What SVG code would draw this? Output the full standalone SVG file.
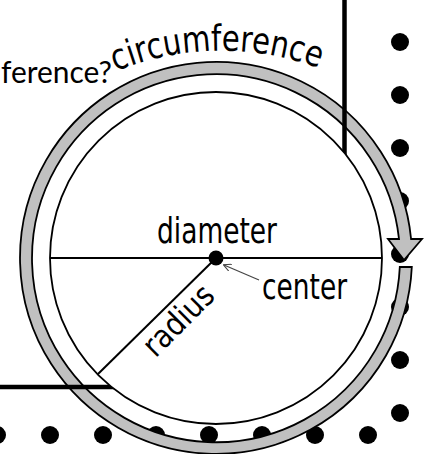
<svg xmlns="http://www.w3.org/2000/svg" width="434" height="454" viewBox="0 0 434 454">
<style>
.dot{fill:#000}
.box{stroke:#000;stroke-width:4.5;fill:none}
.hand{font-family:"Liberation Sans Narrow","DejaVu Sans Condensed","Liberation Sans",sans-serif;fill:#000}
.ln{stroke:#000;stroke-width:2;fill:none}
</style>
<defs>
<marker id="openArrow" viewBox="0 0 10 10" refX="9" refY="5" markerWidth="8" markerHeight="8" markerUnits="userSpaceOnUse" orient="auto">
<path d="M0,0 L10,5 L0,10" fill="none" stroke="#444" stroke-width="1.3"/>
</marker>
<path id="circArc" d="M112,73 A280,280 0 0 1 338,76"/>
</defs>
<rect width="434" height="454" fill="#fff"/>
<g id="dots">
<circle class="dot" cx="400" cy="42" r="9"/>
<circle class="dot" cx="400" cy="95" r="9"/>
<circle class="dot" cx="400" cy="148" r="9"/>
<circle class="dot" cx="400" cy="201" r="9"/>
<circle class="dot" cx="400" cy="254" r="9"/>
<circle class="dot" cx="400" cy="307" r="9"/>
<circle class="dot" cx="400" cy="360" r="9"/>
<circle class="dot" cx="400" cy="413" r="9"/>
<circle class="dot" cx="-3" cy="435" r="9"/>
<circle class="dot" cx="50" cy="435" r="9"/>
<circle class="dot" cx="103" cy="435" r="9"/>
<circle class="dot" cx="156" cy="435" r="9"/>
<circle class="dot" cx="209" cy="435" r="9"/>
<circle class="dot" cx="262" cy="435" r="9"/>
<circle class="dot" cx="315" cy="435" r="9"/>
<circle class="dot" cx="368" cy="435" r="9"/>
</g>
<g id="circumference-arrow">
<path d="M411.8,267 A196,196 0 1 1 411.1,239 L422,239 L404,260 L388,239 L399,239 A184,184 0 1 0 399.8,267 Z" fill="#c0c0c0" stroke="#000" stroke-width="1.8" stroke-linejoin="miter"/>
</g>
<g id="box">
<line class="box" x1="344.5" y1="0" x2="344.5" y2="170"/>
<line class="box" x1="0" y1="387" x2="125" y2="387"/>
</g>
<g id="circle">
<circle cx="216" cy="258" r="166" fill="#fff" stroke="#000" stroke-width="1.8"/>
</g>
<g id="connectors">
<line class="ln" x1="50" y1="258" x2="382" y2="258"/>
<line class="ln" x1="216" y1="258" x2="98" y2="374"/>
<line x1="259" y1="280" x2="224" y2="265" stroke="#444" stroke-width="1.2" marker-end="url(#openArrow)"/>
</g>
<g id="center-point">
<circle cx="216" cy="258" r="7.5" fill="#000"/>
</g>
<g id="labels">
<text x="1" y="83" font-family="Lato,'Open Sans',sans-serif" font-size="30" fill="#000" textLength="111" lengthAdjust="spacingAndGlyphs">ference?</text>
<text class="hand" font-size="36"><textPath href="#circArc" startOffset="4" textLength="208" lengthAdjust="spacingAndGlyphs">circumference</textPath></text>
<text class="hand" x="157" y="243" font-size="36" textLength="120" lengthAdjust="spacingAndGlyphs">diameter</text>
<text class="hand" x="262" y="299" font-size="36" textLength="85" lengthAdjust="spacingAndGlyphs">center</text>
<text class="hand" font-size="32" text-anchor="middle" transform="translate(186,328) rotate(-45)" textLength="86" lengthAdjust="spacingAndGlyphs">radius</text>
</g>
</svg>
